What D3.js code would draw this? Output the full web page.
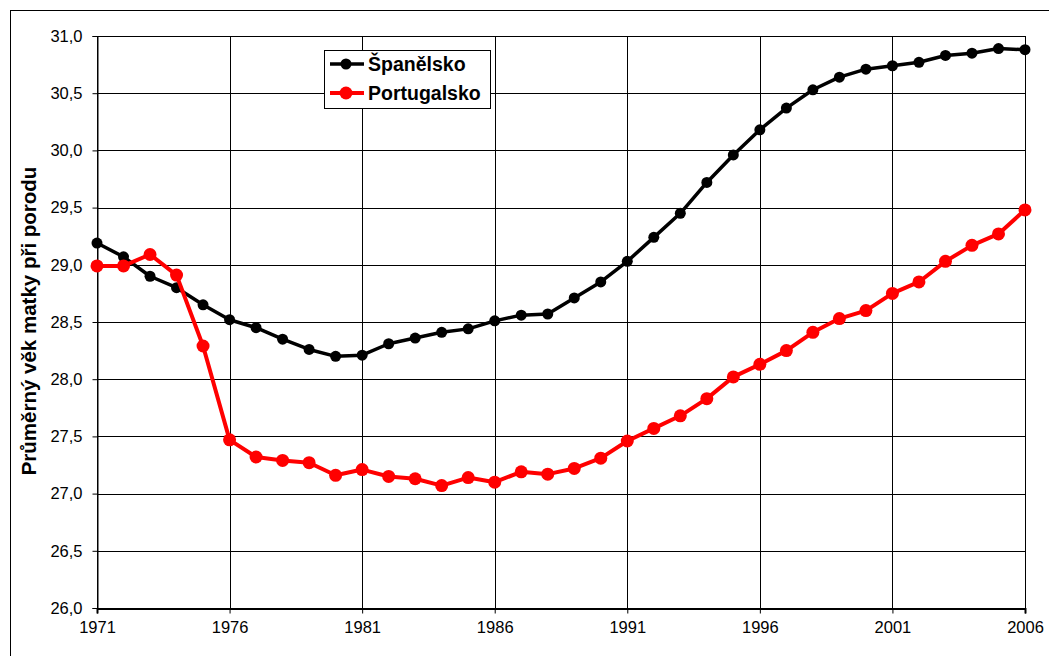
<!DOCTYPE html>
<html lang="cs">
<head>
<meta charset="utf-8">
<title>Průměrný věk matky při porodu</title>
<script src="https://d3js.org/d3.v7.min.js"></script>
<style>
  body { margin: 0; background: #fff; }
  text { font-family: Arial, "Liberation Sans", sans-serif; fill: #000; }
</style>
</head>
<body>
<script>
// data
const years = d3.range(1971, 2007);
const spain = [29.19, 29.07, 28.90, 28.80, 28.65, 28.52, 28.45, 28.35, 28.26, 28.20,
               28.21, 28.31, 28.36, 28.41, 28.44, 28.51, 28.56, 28.57, 28.71, 28.85,
               29.03, 29.24, 29.45, 29.72, 29.96, 30.18, 30.37, 30.53, 30.64, 30.71,
               30.74, 30.77, 30.83, 30.85, 30.89, 30.88];
const portugal = [28.99, 28.99, 29.09, 28.91, 28.29, 27.47, 27.32, 27.29, 27.27, 27.16,
                  27.21, 27.15, 27.13, 27.07, 27.14, 27.10, 27.19, 27.17, 27.22, 27.31,
                  27.46, 27.57, 27.68, 27.83, 28.02, 28.13, 28.25, 28.41, 28.53, 28.60,
                  28.75, 28.85, 29.03, 29.17, 29.27, 29.48];
const xTicks = [1971, 1976, 1981, 1986, 1991, 1996, 2001, 2006];
const yTicks = [26, 26.5, 27, 27.5, 28, 28.5, 29, 29.5, 30, 30.5, 31];

const series = [
  { name: "Španělsko", values: spain, color: "#000", width: 3.5, r: 5.5 },
  { name: "Portugalsko", values: portugal, color: "#ff0000", width: 4, r: 6.5 }
];

const W = 1049, H = 656;
const pLeft = 97, pRight = 1025, pTop = 36, pBottom = 608;

const svg = d3.select("body").append("svg")
  .attr("width", W)
  .attr("height", H);

// outer chart frame
svg.append("rect")
  .attr("x", 10.5).attr("y", 10.5)
  .attr("width", 1050).attr("height", 660)
  .attr("fill", "none").attr("stroke", "#000").attr("stroke-width", 1);

const x = d3.scaleLinear().domain([1971, 2006]).range([pLeft, pRight]);
const y = d3.scaleLinear().domain([26, 31]).range([pBottom, pTop]);

const fmt = d => d3.format(".1f")(d).replace(".", ",");

// grid
svg.append("g")
  .selectAll("line")
  .data(yTicks)
  .join("line")
  .attr("x1", pLeft).attr("x2", pRight)
  .attr("y1", d => Math.round(y(d)) + 0.5).attr("y2", d => Math.round(y(d)) + 0.5)
  .attr("stroke", "#000").attr("stroke-width", 1);

svg.append("g")
  .selectAll("line")
  .data(xTicks)
  .join("line")
  .attr("x1", d => Math.round(x(d)) + 0.5).attr("x2", d => Math.round(x(d)) + 0.5)
  .attr("y1", pTop).attr("y2", pBottom)
  .attr("stroke", "#000").attr("stroke-width", 1);

// axes
const yAxis = svg.append("g")
  .attr("transform", `translate(${pLeft + 0.5},0)`)
  .call(d3.axisLeft(y).tickValues(yTicks).tickFormat(fmt).tickSize(5).tickPadding(10));
yAxis.selectAll("text").attr("font-size", 16.5).attr("font-family", "Arial, 'Liberation Sans', sans-serif");

const xAxis = svg.append("g")
  .attr("transform", `translate(0,${pBottom + 0.5})`)
  .call(d3.axisBottom(x).tickValues(xTicks).tickFormat(d3.format("d")).tickSize(5).tickPadding(8));
xAxis.selectAll("text").attr("font-size", 16.5).attr("font-family", "Arial, 'Liberation Sans', sans-serif");

[yAxis, xAxis].forEach(a => {
  a.selectAll("path, line").attr("stroke", "#000");
});
xAxis.select("path").attr("stroke-width", 2);

// y title
svg.append("text")
  .attr("transform", `translate(36,321) rotate(-90)`)
  .attr("text-anchor", "middle")
  .attr("font-size", 20.5)
  .attr("font-weight", "bold")
  .text("Průměrný věk matky při porodu");

// lines + markers
const line = d3.line()
  .x((d, i) => x(years[i]))
  .y(d => y(d));

series.forEach(s => {
  svg.append("path")
    .datum(s.values)
    .attr("fill", "none")
    .attr("stroke", s.color)
    .attr("stroke-width", s.width)
    .attr("stroke-linejoin", "round")
    .attr("d", line);
  svg.append("g")
    .selectAll("circle")
    .data(s.values)
    .join("circle")
    .attr("cx", (d, i) => x(years[i]))
    .attr("cy", d => y(d))
    .attr("r", s.r)
    .attr("fill", s.color);
});

// legend
const lg = svg.append("g");
lg.append("rect")
  .attr("x", 324.5).attr("y", 50.5)
  .attr("width", 166).attr("height", 58)
  .attr("fill", "#fff").attr("stroke", "#000");

series.forEach((s, i) => {
  const ly = 64 + i * 29;
  lg.append("line")
    .attr("x1", 330).attr("x2", 364)
    .attr("y1", ly).attr("y2", ly)
    .attr("stroke", s.color).attr("stroke-width", s.width);
  lg.append("circle")
    .attr("cx", 346).attr("cy", ly).attr("r", s.r).attr("fill", s.color);
  lg.append("text")
    .attr("x", 368).attr("y", ly + 7)
    .attr("font-size", 19.5)
    .attr("font-weight", "bold")
    .text(s.name);
});
</script>
</body>
</html>
